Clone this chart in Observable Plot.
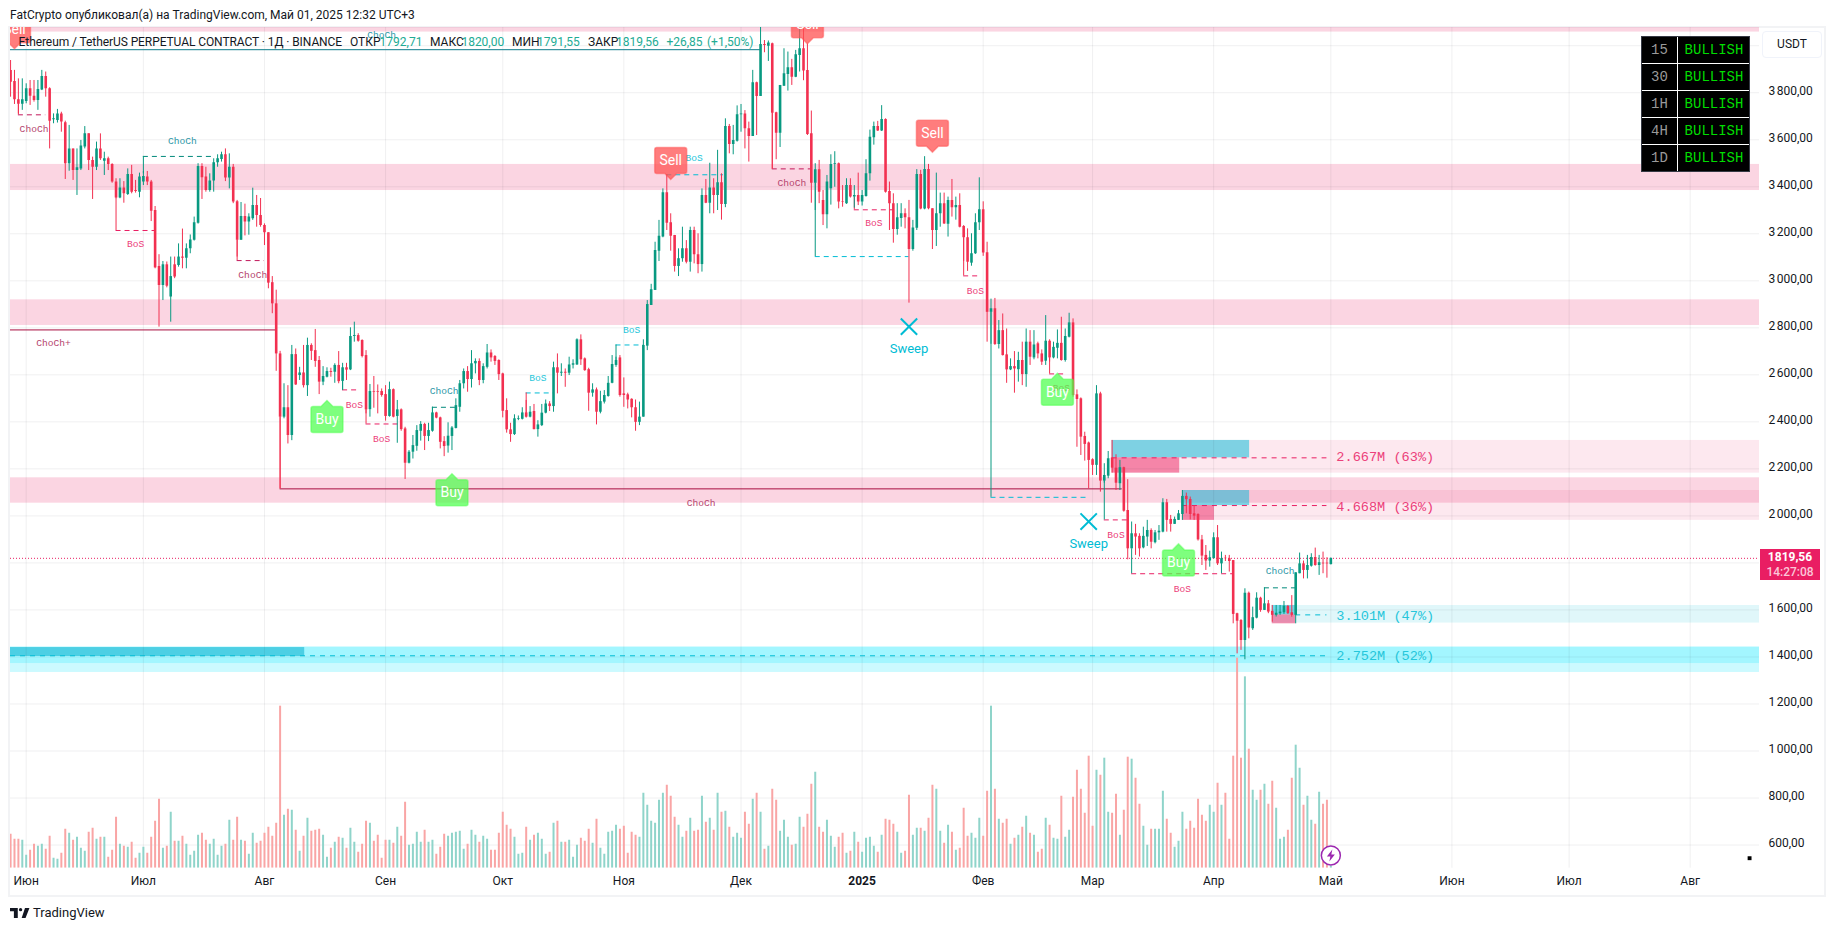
<!DOCTYPE html>
<html><head><meta charset="utf-8">
<style>
html,body{margin:0;padding:0;background:#fff;width:1835px;height:931px;overflow:hidden;font-family:Roboto,sans-serif;color:#131722}
#chart{position:absolute;left:0;top:0}
.abs{position:absolute;white-space:pre}
#frame{position:absolute;left:8px;top:26px;width:1814px;height:867px;border:2px solid #f2f3f5}
.hd{font-size:12px;line-height:14px;top:35px;color:#131722}
.num{color:#22ab94}
#tf{position:absolute;left:1641px;top:36px;width:109px;height:136px;background:#000;border:1px solid #363a45;box-sizing:border-box;font-family:"Liberation Mono",monospace;font-size:14px}
#tf div{position:absolute;height:26px;line-height:26px;text-align:center}
#tf .sep{background:#fff;height:1px}
#usdt{position:absolute;left:1762px;top:31px;width:58px;height:25px;border:1px solid #f0f3fa;border-radius:4px;font-size:12px;line-height:25px;text-align:center}
#tag{position:absolute;left:1760px;top:549px;width:60px;height:31px;background:#e91e63;font-size:12px;text-align:center;line-height:15px;padding-top:1px;box-sizing:border-box}
</style>
<script src="https://cdn.jsdelivr.net/npm/d3@7"></script>
<script src="https://cdn.jsdelivr.net/npm/@observablehq/plot@0.6"></script>
</head><body>
<div id="frame"></div>
<div id="chart"></div>
<div class="abs" style="left:10px;top:8px;font-size:12px;line-height:14px" id="pub"></div>
<div id="legend"></div>
<div id="tf"></div>
<div id="usdt">USDT</div>
<div id="tag"><span style="color:#fff;font-weight:700">1819,56</span><br><span style="color:#fbc6d8;font-weight:500">14:27:08</span></div>
<svg class="abs" style="left:10px;top:908px" width="20" height="10" viewBox="0 6 36 18"><path fill="#131722" d="M14 6H0v6h7v12h7zM28 24h-7l6-18h8z"/><circle cx="19" cy="9" r="3" fill="#131722"/></svg>
<div class="abs" style="left:33px;top:905px;font-size:13px;line-height:16px">TradingView</div>
<script>
// Daily candles: [open, high, low, close, volume-height]
const may24=[[3895,3937,3781,3845,102],[3848,3895,3750,3770,87],[3770,3859,3710,3751,87],[3751,3859,3725,3770,84]];
const jun24=[[3763,3838,3753,3817,39],[3817,3852,3746,3785,54],[3785,3852,3760,3767,72],[3767,3852,3725,3814,66],[3812,3895,3809,3869,72],[3869,3888,3781,3817,57],[3817,3821,3561,3679,96],[3685,3710,3668,3689,30],[3682,3729,3671,3710,27],[3710,3717,3632,3675,45],
[3672,3679,3431,3498,117],[3498,3661,3466,3561,105],[3561,3561,3427,3469,84],[3469,3561,3363,3481,93],[3476,3597,3469,3573,60],[3569,3656,3561,3625,51],[3625,3625,3469,3512,108],[3512,3526,3346,3483,120],[3483,3590,3469,3561,87],[3561,3625,3512,3519,93],
[3509,3547,3448,3519,93],[3519,3526,3469,3495,33],[3495,3498,3415,3420,54],[3420,3434,3349,3352,153],[3352,3434,3349,3395,72],[3395,3422,3330,3370,66],[3367,3476,3363,3452,63],[3452,3491,3370,3377,78],[3384,3427,3373,3380,30],[3377,3458,3353,3441,45]];
const jul24=[[3420,3465,3405,3444,63],[3441,3465,3405,3420,45],[3420,3427,3252,3296,93],[3299,3316,3051,3055,141],[3061,3111,2803,2980,207],[2980,3082,2916,3068,60],[3068,3080,2970,2977,66],[2931,3101,2824,3018,168],[3068,3101,3009,3016,81],[3065,3157,3058,3101,81],
[3101,3220,3051,3096,96],[3096,3157,3051,3136,72],[3136,3195,3115,3174,39],[3172,3271,3169,3247,51],[3245,3498,3241,3486,99],[3486,3498,3346,3438,105],[3441,3483,3377,3384,84],[3384,3455,3377,3424,72],[3424,3519,3377,3502,87],[3502,3536,3483,3519,39],
[3516,3547,3505,3536,66],[3536,3561,3422,3437,72],[3437,3540,3391,3483,144],[3483,3495,3328,3335,84],[3336,3342,3101,3172,153],[3172,3333,3172,3274,84],[3274,3326,3191,3250,81],[3250,3285,3194,3271,42],[3264,3394,3257,3320,105],[3320,3363,3228,3278,75],[3278,3350,3228,3235,81]];
const aug24=[[3235,3242,3150,3204,105],[3204,3204,2966,2990,123],[2992,3018,2860,2902,96],[2902,2960,2615,2689,135],[2689,2700,2115,2420,486],[2420,2562,2413,2460,159],[2460,2554,2306,2342,177],[2342,2725,2320,2686,174],[2686,2710,2555,2557,114],[2597,2632,2576,2608,51],
[2608,2725,2544,2554,96],[2554,2756,2508,2725,150],[2725,2732,2661,2700,111],[2703,2793,2632,2657,114],[2661,2678,2516,2569,117],[2569,2635,2554,2593,99],[2590,2630,2587,2614,33],[2614,2628,2590,2610,60],[2611,2647,2564,2640,78],[2640,2699,2562,2571,93],
[2572,2649,2533,2630,90],[2630,2649,2576,2620,60],[2621,2800,2618,2763,120],[2763,2824,2739,2767,78],[2767,2775,2739,2743,48],[2746,2749,2672,2678,72],[2682,2703,2434,2451,141],[2452,2559,2420,2529,135],[2529,2593,2458,2526,81],[2529,2557,2434,2526,99],[2529,2540,2505,2512,30]];
const sep24=[[2516,2554,2403,2423,84],[2423,2569,2420,2537,84],[2537,2540,2417,2420,75],[2423,2491,2309,2451,123],[2451,2455,2360,2367,96],[2370,2377,2155,2224,198],[2224,2278,2221,2271,69],[2271,2342,2242,2299,72],[2296,2384,2275,2363,108],[2360,2401,2318,2389,78],
[2389,2394,2278,2338,114],[2338,2394,2316,2363,78],[2360,2462,2356,2438,84],[2438,2441,2413,2416,42],[2417,2420,2285,2313,63],[2316,2337,2252,2295,102],[2297,2396,2267,2339,96],[2338,2380,2278,2374,105],[2372,2498,2370,2469,108],[2462,2576,2441,2562,111],
[2562,2625,2540,2614,57],[2614,2635,2526,2580,72],[2580,2703,2544,2647,114],[2647,2668,2604,2657,99],[2657,2668,2554,2576,78],[2576,2647,2562,2635,96],[2632,2729,2625,2693,87],[2693,2706,2654,2672,54],[2678,2682,2640,2657,54],[2661,2664,2576,2601,105]];
const oct24=[[2604,2607,2417,2445,168],[2448,2498,2352,2366,129],[2366,2394,2313,2346,117],[2346,2430,2342,2413,93],[2410,2425,2405,2413,42],[2411,2460,2408,2438,45],[2438,2491,2416,2420,123],[2420,2465,2417,2441,84],[2444,2474,2366,2367,99],[2367,2405,2335,2387,105],
[2384,2474,2380,2437,87],[2437,2493,2434,2476,42],[2476,2486,2444,2465,48],[2465,2654,2441,2630,135],[2630,2689,2519,2607,141],[2607,2647,2593,2611,78],[2611,2625,2547,2607,78],[2607,2675,2597,2642,84],[2641,2664,2625,2647,33],[2642,2753,2640,2749,69],
[2749,2770,2640,2664,90],[2668,2672,2615,2618,81],[2622,2628,2445,2522,117],[2522,2562,2505,2536,75],[2536,2544,2387,2441,147],[2441,2530,2434,2486,60],[2484,2533,2476,2512,42],[2508,2593,2505,2564,108],[2564,2682,2562,2644,111],[2640,2675,2632,2661,129],[2672,2682,2505,2512,117]];
const nov24=[[2519,2587,2462,2512,126],[2515,2522,2455,2493,45],[2496,2498,2417,2460,108],[2460,2493,2360,2398,99],[2398,2484,2384,2420,93],[2420,2749,2420,2725,225],[2722,2916,2703,2899,189],[2895,2985,2895,2962,141],[2959,3164,2959,3129,135],[3126,3257,3082,3189,204],
[3186,3391,3183,3374,225],[3374,3452,3214,3245,249],[3247,3285,3126,3189,216],[3193,3193,3037,3061,153],[3061,3136,3018,3094,129],[3094,3228,3079,3136,93],[3136,3171,3072,3079,111],[3079,3228,3037,3214,150],[3214,3228,3072,3111,111],[3111,3200,3030,3069,114],
[3069,3391,3037,3363,216],[3363,3431,3328,3330,138],[3330,3500,3285,3395,150],[3395,3434,3285,3363,114],[3363,3555,3299,3417,225],[3417,3455,3258,3325,168],[3325,3689,3311,3656,171],[3656,3665,3540,3580,123],[3580,3661,3536,3597,93],[3594,3744,3590,3706,105]];
const dec24=[[3706,3750,3632,3710,90],[3710,3724,3561,3647,168],[3647,3675,3505,3614,132],[3614,3895,3614,3842,207],[3842,3845,3618,3784,225],[3784,4078,3784,4005,168],[4005,4022,3970,4001,57],[3998,4020,3933,4011,66],[4008,4011,3474,3713,237],[3715,3717,3515,3628,204],
[3628,3831,3567,3831,111],[3827,3987,3827,3881,144],[3878,3973,3807,3906,93],[3906,3942,3831,3866,69],[3866,3980,3864,3961,72],[3958,4078,3888,3987,153],[3987,4072,3851,3892,123],[3895,4008,3618,3622,162],[3625,3722,3330,3415,252],[3415,3498,3299,3472,288],
[3472,3512,3328,3377,123],[3342,3384,3235,3281,108],[3281,3448,3221,3420,144],[3391,3536,3322,3495,96],[3495,3549,3398,3498,63],[3498,3501,3306,3335,93],[3337,3405,3313,3335,105],[3328,3434,3325,3405,45],[3405,3434,3352,3356,51],[3356,3405,3309,3363,108],[3363,3458,3320,3335,78]];
const jan25=[[3335,3384,3318,3363,48],[3359,3515,3356,3455,90],[3455,3641,3424,3611,93],[3608,3675,3577,3656,66],[3656,3678,3635,3637,48],[3637,3745,3635,3686,99],[3686,3689,3373,3377,147],[3380,3420,3214,3328,144],[3328,3370,3160,3218,132],[3218,3328,3194,3268,108],
[3265,3328,3228,3285,45],[3285,3306,3221,3268,51],[3268,3342,2905,3133,219],[3133,3257,3126,3225,99],[3223,3473,3214,3452,120],[3452,3470,3302,3305,120],[3305,3528,3302,3473,111],[3473,3495,3302,3306,150],[3306,3306,3133,3214,249],[3214,3458,3146,3285,237],
[3285,3373,3228,3328,111],[3328,3373,3240,3242,75],[3240,3356,3186,3342,129],[3342,3431,3271,3311,108],[3311,3356,3258,3320,54],[3320,3370,3225,3228,60],[3231,3235,3082,3183,180],[3183,3221,3040,3079,96],[3075,3200,3062,3115,105],[3115,3285,3112,3247,90],[3247,3438,3214,3302,150]];
const feb25=[[3302,3336,3104,3118,96],[3119,3164,2739,2866,231],[2866,2922,2730,2881,486],[2881,2925,2725,2729,237],[2729,2831,2710,2788,147],[2788,2859,2680,2682,135],[2685,2795,2564,2621,147],[2621,2668,2618,2635,72],[2635,2699,2522,2625,90],[2622,2696,2569,2661,99],
[2661,2739,2554,2601,123],[2601,2795,2547,2739,156],[2739,2788,2640,2675,105],[2672,2788,2664,2727,99],[2732,2739,2668,2689,48],[2689,2706,2640,2654,57],[2658,2852,2640,2743,150],[2743,2749,2654,2672,129],[2672,2739,2668,2717,90],[2713,2791,2668,2734,87],
[2734,2845,2658,2661,216],[2661,2795,2654,2763,93],[2760,2862,2757,2821,114],[2821,2838,2505,2512,213],[2515,2536,2292,2495,294],[2498,2502,2257,2335,237],[2338,2356,2233,2304,165],[2310,2314,2115,2236,336]];
const mar25=[[2239,2243,2172,2215,126],[2215,2554,2172,2519,294],[2519,2526,2101,2148,279],[2148,2222,2139,2172,330],[2169,2274,2158,2243,168],[2246,2321,2182,2203,165],[2203,2260,2108,2139,222],[2137,2236,2108,2205,99],[2205,2207,2016,2020,174],[2023,2154,1813,1860,333],
[1860,1974,1860,1924,327],[1924,1964,1832,1910,270],[1913,1924,1825,1860,192],[1864,1952,1860,1913,126],[1910,1981,1870,1938,69],[1938,1945,1860,1888,117],[1886,1938,1881,1928,117],[1928,1959,1896,1935,117],[1931,2073,1928,2056,231],[2056,2070,1931,1981,147],
[1985,2002,1931,1964,105],[1964,1995,1964,1985,63],[1981,2023,1981,2009,81],[2006,2108,1981,2083,168],[2083,2097,2009,2069,117],[2070,2080,1983,2006,141],[2009,2044,1981,1999,120],[2006,2009,1893,1898,207],[1898,1917,1789,1829,159],[1832,1874,1768,1808,141],[1808,1850,1782,1822,189]];
const apr25=[[1818,1928,1818,1907,168],[1907,1959,1789,1796,255],[1796,1846,1754,1818,189],[1820,1832,1806,1818,225],[1818,1832,1761,1806,87],[1810,1810,1541,1581,336],[1584,1586,1413,1552,630],[1555,1559,1428,1470,330],[1470,1690,1388,1671,574],[1671,1676,1477,1523,357],
[1520,1612,1513,1567,234],[1565,1673,1562,1650,204],[1650,1654,1590,1598,234],[1598,1672,1598,1626,252],[1626,1640,1584,1591,192],[1594,1619,1548,1577,261],[1577,1619,1570,1586,180],[1584,1619,1577,1591,87],[1588,1636,1581,1616,93],[1615,1619,1581,1584,114],
[1588,1661,1569,1577,270],[1577,1758,1541,1758,369],[1754,1842,1754,1796,300],[1796,1808,1732,1768,189],[1768,1832,1732,1789,216],[1786,1839,1782,1823,144],[1823,1863,1786,1789,132],[1789,1832,1747,1801,228],[1799,1846,1754,1796,192],[1799,1822,1735,1796,204]];
const may25=[[1792.71,1820,1791.55,1819.56,6]];

// Months on the time axis
const monthDays=[0,30,61,92,122,153,183,214,245,273,304,334,365,395,426];
const monthLabels=["Июн","Июл","Авг","Сен","Окт","Ноя","Дек","2025","Фев","Мар","Апр","Май","Июн","Июл","Авг"];
const priceTicks=[600,800,1000,1200,1400,1600,1800,2000,2200,2400,2600,2800,3000,3200,3400,3600,3800];
const gridPrices=[...priceTicks,4000];
const lastClose=1819.56;

// Supply and demand bands: [fromDay, toDay, low, high, kind]
const bandRows=[
[-4.02,443.74,4058,4080,"zone"],[-4.02,443.74,3384,3495,"zone"],[-4.02,443.74,2810,2919,"zone"],[-4.02,443.74,2054,2162,"zone"],
[278,443.74,2182,2321,"pale"],[296,443.74,1981,2108,"pale"],[319,443.74,1544,1619,"paleCyan"],
[-4.02,443.74,1334,1442,"cyan"],[-4.02,443.74,1372,1442,"cyan"],[-4.02,71.3,1402,1440,"cyanDark"],
[278,313.2,2247,2321,"blueBox"],[278,295.3,2182,2247,"redBox"],[296,313.2,2044,2108,"blueBox"],[296,304.2,1981,2044,"redBox"],[319,325,1579,1619,"blueBox"],[319,325,1541,1579,"redBox"]];
// Volume profile lines and their labels: [fromDay, toDay, price, kind]
const profileLines=[[278,333,2247,"bearBos"],[296,333,2044,"bearBos"],[325,333,1579,"bullBos"],[-4.02,333,1405,"bullBos"]];
const profileLabels=[[2250,"2.667M (63%)","#ec407a"],[2040,"4.668M (36%)","#ec407a"],[1576,"3.101M (47%)","#26c6da"],[1406,"2.752M (52%)","#26c6da"]];
const profileLabelDay=335.4;

// Market structure: [fromDay, toDay, level, pivotPrice, kind, pivotSide]
const structureLines=[
[-2,5,3706,3751,"bearCh","down"],[30,48,3529,3455,"bullCh","up"],[23,33,3214,3352,"bearBos","down"],[54,61,3086,3172,"bearCh","down"],
[81,85,2536,2572,"bearBos","up"],[87,96,2391,2451,"bearBos","down"],[104,110,2462,2363,"bullCh","up"],[128,135,2523,2420,"bullBos","down"],
[151,158,2727,2661,"bullBos","up"],[164,178.5,3451,3452,"bullBos","down"],[191,201,3476,3713,"bearCh","down"],[212,222,3302,3356,"bearBos","down"],
[202,226,3103,3415,"bullBos","up"],[240,244,3021,3183,"bearBos","down"],[247,272,2079,2866,"bullBos","up"],[262,266,2604,2672,"bearBos","down"],
[276,282,1983,2148,"bearBos","up"],[283,309,1754,1860,"bearBos","up"],[317,325,1694,1626,"bullCh","up"]];
const solidLines=[[-4.02,64,2791,"bearSolid"],[65,280.6,2115,"bearSolid"],[-4.02,188,3983,"bullSolid"]];
const solidDrops=[[65,2420,2115]];
const structureLabels=[
[2,3644,"ChoCh","bearCh"],[40,3593,"ChoCh","bullCh"],[28,3155,"BoS","bearBos"],[58,3027,"ChoCh","bearCh"],[7,2735,"ChoCh+","bearCh"],[91,4046,"ChoCh","bullCh"],
[84,2474,"BoS","bearBos"],[91,2329,"BoS","bearBos"],[172.8,2054,"ChoCh","bearCh"],[107,2533,"ChoCh","bullCh"],[131,2587,"BoS","bullBos"],[155,2793,"BoS","bullBos"],
[171,3522,"BoS","bullBos"],[196,3415,"ChoCh","bearCh"],[217,3245,"BoS","bearBos"],[243,2959,"BoS","bearBos"],[265,2544,"BoS","bearBos"],[279,1921,"BoS","bearBos"],[296,1690,"BoS","bearBos"],[321,1764,"ChoCh","bullCh"]];
// Signals: [day, tip price]
const sellSignals=[[-3,3987],[165,3431],[200,4008],[232,3547]];
const buySignals=[[77,2491],[109,2179],[264,2607],[295,1881]];
const sweeps=[[226,2805,2710],[272,1976,1881]];
const boltMark=[[334,556]];
const cornerMark=[[441.2,544]];
const timeframes=["15","30","1H","4H","1D"];
const bias=["BULLISH","BULLISH","BULLISH","BULLISH","BULLISH"];

const D=n=>new Date(Date.UTC(2024,5,1)+n*864e5);
const candles=[may24,jun24,jul24,aug24,sep24,oct24,nov24,dec24,jan25,feb25,mar25,apr25,may25].flat()
  .map((r,i)=>({date:D(i-4),o:r[0],h:r[1],l:r[2],c:r[3],v:r[4]}));
const ups=candles.filter(d=>d.c>=d.o), downs=candles.filter(d=>d.c<d.o);
const yDomain=[501.5,4077.4], xDomain=[D(-4.02),D(443.74)];
const volBase=yDomain[0], volFactor=1.418;

const GREEN="#089981", RED="#f23050";
const bandFill={zone:["#e91e63",.19],pale:["#e91e63",.1],paleCyan:["#00bcd4",.12],cyan:["#00e5ff",.2],cyanDark:["#28bfd8",.7],blueBox:["#00bad7",.5],redBox:["#ed2261",.5]};
const lineColor={bearCh:"#c2185b",bearBos:"#e91e63",bullCh:"#00897b",bullBos:"#00bcd4",bearSolid:"#a80f40",bullSolid:"#0d7c8a"};
const textColor={bearCh:"#b5446e",bearBos:"#ec407a",bullCh:"#2e97a8",bullBos:"#26c6da"};
const sans="Roboto", mono="Liberation Mono";

// Custom tag shapes; origin is the arrow tip
const tagShape=dir=>({draw(c){
  const w=16,a=6,h=26,r=2,s=dir;
  c.moveTo(0,0);c.lineTo(a,s*a);c.lineTo(w-r,s*a);c.quadraticCurveTo(w,s*a,w,s*(a+r));c.lineTo(w,s*(a+h-r));c.quadraticCurveTo(w,s*(a+h),w-r,s*(a+h));
  c.lineTo(-w+r,s*(a+h));c.quadraticCurveTo(-w,s*(a+h),-w,s*(a+h-r));c.lineTo(-w,s*(a+r));c.quadraticCurveTo(-w,s*a,-w+r,s*a);c.lineTo(-a,s*a);c.closePath();
}});
const boltShape={draw(c){c.moveTo(1.5,-6);c.lineTo(-4,1);c.lineTo(-.5,1);c.lineTo(-1.5,6);c.lineTo(4,-1);c.lineTo(.5,-1);c.closePath();}};
const bx=d=>D(d[0]);

const chart=Plot.plot({
  width:1835,height:931,marginLeft:10,marginRight:76,marginTop:27,marginBottom:63.3,
  x:{type:"utc",domain:xDomain},y:{domain:yDomain},color:{type:"identity"},
  style:{fontFamily:sans,fontSize:"12px",background:"transparent",color:"#131722"},
  marks:[
    Plot.rect(bandRows,{x1:d=>D(d[0]),x2:d=>D(d[1]),y1:d=>d[2],y2:d=>d[3],fill:d=>bandFill[d[4]][0],fillOpacity:d=>bandFill[d[4]][1],clip:true}),
    Plot.ruleY(gridPrices,{stroke:"#2a2e39",strokeOpacity:.07}),
    Plot.ruleX(monthDays,{x:d=>D(d),stroke:"#2a2e39",strokeOpacity:.07}),
    Plot.axisY(priceTicks,{anchor:"right",tickSize:0,tickPadding:9,label:null,dy:-2,fontSize:12,textAnchor:"start",
      tickFormat:d=>d3.format(",.2f")(d).replace(",","\u202f").replace(".",",")}),
    Plot.axisX(monthDays.filter((d,i)=>monthLabels[i]!=="2025").map(D),{anchor:"bottom",tickSize:0,tickPadding:8,label:null,fontSize:12,
      tickFormat:d=>monthLabels[monthDays.indexOf(Math.round((d-D(0))/864e5))]}),
    Plot.axisX([D(214)],{anchor:"bottom",tickSize:0,tickPadding:8,label:null,fontSize:12,fontWeight:700,tickFormat:()=>"2025"}),
    // volume overlay on the price pane
    Plot.ruleX(ups,{x:"date",y1:volBase,y2:d=>volBase+d.v*volFactor,stroke:"#8fd4ca",strokeWidth:2,clip:true}),
    Plot.ruleX(downs,{x:"date",y1:volBase,y2:d=>volBase+d.v*volFactor,stroke:"#f9a5a5",strokeWidth:2,clip:true}),
    // current price
    Plot.ruleY([lastClose],{stroke:"#e91e63",strokeDasharray:"1,2",strokeWidth:1}),
    // structure
    Plot.ruleY(solidLines,{x1:d=>D(d[0]),x2:d=>D(d[1]),y:d=>d[2],stroke:d=>lineColor[d[3]],strokeWidth:1}),
    Plot.ruleX(solidDrops,{x:bx,y1:d=>d[1],y2:d=>d[2],stroke:RED}),
    Plot.ruleY(structureLines,{x1:d=>D(d[0]),x2:d=>D(d[1]),y:d=>d[2],stroke:d=>lineColor[d[4]],strokeDasharray:"5,4"}),
    Plot.ruleX(structureLines,{x:bx,y1:d=>d[3],y2:d=>d[2],stroke:d=>d[5]==="up"?GREEN:RED}),
    Plot.ruleY(profileLines,{x1:d=>D(d[0]),x2:d=>D(d[1]),y:d=>d[2],stroke:d=>lineColor[d[3]],strokeDasharray:"5,5"}),
    // candles
    Plot.ruleX(ups,{x:"date",y1:"l",y2:"h",stroke:GREEN,strokeWidth:1,clip:true}),
    Plot.ruleX(downs,{x:"date",y1:"l",y2:"h",stroke:RED,strokeWidth:1,clip:true}),
    Plot.ruleX(ups,{x:"date",y1:"o",y2:"c",stroke:GREEN,strokeWidth:2.6,clip:true}),
    Plot.ruleX(downs,{x:"date",y1:"o",y2:"c",stroke:RED,strokeWidth:2.6,clip:true}),
    // labels
    Plot.text(structureLabels,{x:bx,y:d=>d[1],text:d=>d[2],fill:d=>textColor[d[3]],fontFamily:mono,fontSize:9.6}),
    Plot.text(profileLabels,{x:()=>D(profileLabelDay),y:d=>d[0],text:d=>d[1],fill:d=>d[2],fontFamily:mono,fontSize:13.6,textAnchor:"start"}),
    // signals
    Plot.dot(sellSignals,{x:bx,y:d=>d[1],r:5,symbol:tagShape(-1),fill:"#ff5252",fillOpacity:.75,stroke:"#ff5252",strokeOpacity:.5,clip:true}),
    Plot.text(sellSignals,{x:bx,y:d=>d[1],text:()=>"Sell",fill:"#fff",fontSize:14,dy:-19,clip:true}),
    Plot.dot(buySignals,{x:bx,y:d=>d[1],r:5,symbol:tagShape(1),fill:"#4cff4c",fillOpacity:.72,stroke:"#4cff4c",strokeOpacity:.5,clip:true}),
    Plot.text(buySignals,{x:bx,y:d=>d[1],text:()=>"Buy",fill:"#fff",fontSize:14,dy:19}),
    Plot.dot(sweeps,{x:bx,y:d=>d[1],r:7.5,symbol:"times",stroke:"#00bcd4",strokeWidth:2}),
    Plot.text(sweeps,{x:bx,y:d=>d[2],text:()=>"Sweep",fill:"#00bcd4",fontSize:13}),
    // misc
    Plot.dot(boltMark,{x:bx,y:d=>d[1],r:9.5,fill:"#fff",stroke:"#9c27b0",strokeWidth:1.5}),
    Plot.dot(boltMark,{x:bx,y:d=>d[1],r:5,symbol:boltShape,fill:"#9c27b0"}),
    Plot.dot(cornerMark,{x:bx,y:d=>d[1],r:2.2,symbol:"square",fill:"#000"})
  ]
});
document.getElementById("chart").append(chart);
document.getElementById("pub").textContent="FatCrypto опубликовал(а) на TradingView.com, Май 01, 2025 12:32 UTC+3";
// legend line
const legendParts=[[18.6,"Ethereum / TetherUS PERPETUAL CONTRACT · 1Д · BINANCE",0],[350,"ОТКР",0],[379.6,"1792,71",1],[430,"МАКС",0],[461.4,"1820,00",1],[512,"МИН",0],[537,"1791,55",1],[588,"ЗАКР",0],[616,"1819,56",1],[666.4,"+26,85",1],[707,"(+1,50%)",1]];
const lg=document.getElementById("legend");
legendParts.forEach(p=>{const s=document.createElement("div");s.className="abs hd"+(p[2]?" num":"");s.style.left=p[0]+"px";s.style.letterSpacing=p[1].length>10?"-0.08px":"0";s.textContent=p[1];lg.append(s);});
// timeframe table
const tf=document.getElementById("tf");
timeframes.forEach((t,i)=>{
  const top=i*27;
  tf.insertAdjacentHTML("beforeend",`<div style="left:0;width:35px;top:${top}px;color:#9a9a9a">${t}</div><div style="left:36px;width:72px;top:${top}px;color:#00dd00">${bias[i]}</div>`);
  if(i<4) tf.insertAdjacentHTML("beforeend",`<div class="sep" style="left:0;width:107px;top:${top+26}px"></div>`);
});
tf.insertAdjacentHTML("beforeend",`<div class="sep" style="left:35px;width:1px;top:0;height:134px"></div>`);
</script>
</body></html>
